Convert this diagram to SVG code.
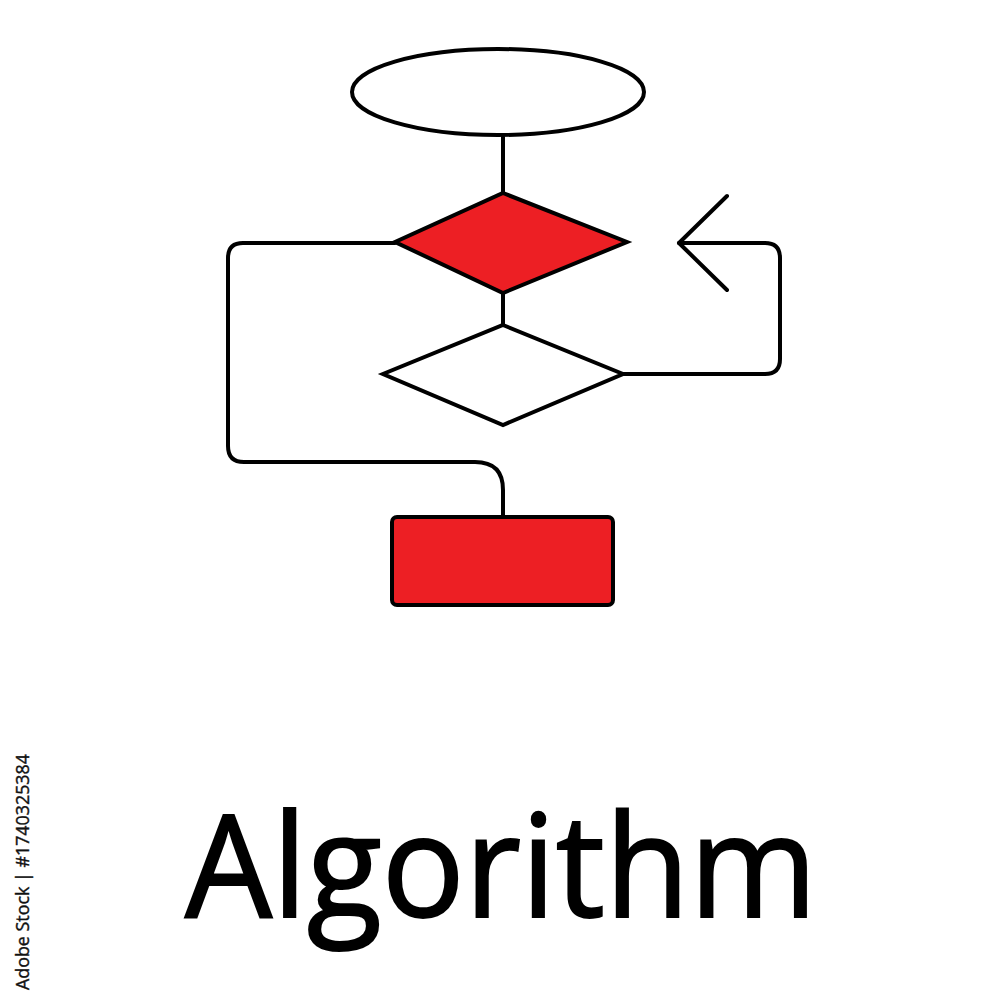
<svg xmlns="http://www.w3.org/2000/svg" width="1000" height="1000" viewBox="0 0 1000 1000">
<style>
.ln{fill:none;stroke:#000;stroke-width:4;stroke-linejoin:round;stroke-linecap:round}
.sh{stroke:#000;stroke-width:4;stroke-linejoin:miter}
.red{fill:#ed1f24}
.wh{fill:#fff}
.title{font-family:"Open Sans","Noto Sans",sans-serif;font-size:142px;fill:#000;stroke:#000;stroke-width:2}
.wm{font-family:"Open Sans","Noto Sans",sans-serif;font-size:19px;fill:#111;stroke:#111;stroke-width:0.4}
</style>
<rect width="1000" height="1000" fill="#fff"/>
<g id="connectors">
<path class="ln" d="M503 137 V193"/>
<path class="ln" d="M503 293 V325"/>
<path class="ln" d="M623 374 H765 Q780 374 780 359 V258 Q780 243 765 243 H679"/>
<path class="ln" d="M727 196 L679 243 L727 290"/>
<path class="ln" d="M395 243 H243 Q228 243 228 258 V446 Q228 462 244 462 H475 Q503 462 503 490 V517"/>
</g>
<g id="start"><ellipse class="sh wh" cx="498" cy="92" rx="146" ry="43"/></g>
<g id="decision1"><polygon class="sh red" points="503,193 627,242 503,293 395,242"/></g>
<g id="decision2"><polygon class="sh wh" points="503,325 623,374 503,425 383,374"/></g>
<g id="process"><rect class="sh red" x="392" y="517" width="221" height="88" rx="5"/></g>
<text class="title" x="501" y="917" text-anchor="middle" textLength="632" lengthAdjust="spacingAndGlyphs">Algorithm</text>
<text class="wm" transform="translate(29,990) rotate(-90)" textLength="236" lengthAdjust="spacingAndGlyphs">Adobe Stock | #1740325384</text>
</svg>
